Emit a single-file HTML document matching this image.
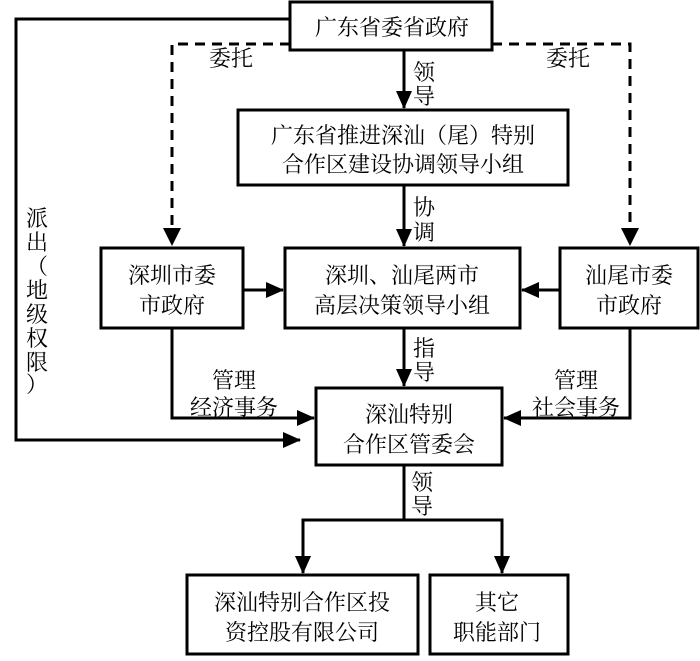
<!DOCTYPE html>
<html><head><meta charset="utf-8"><style>
body{margin:0;background:#fff;}
svg text{font-family:"Liberation Serif","Noto Serif CJK SC","Noto Sans CJK SC",serif;font-size:22px;fill:#000;}
</style></head><body>
<svg width="700" height="656" viewBox="0 0 700 656" xmlns="http://www.w3.org/2000/svg">
<defs><marker id="b" markerWidth="18" markerHeight="16" refX="17" refY="8" orient="auto" markerUnits="userSpaceOnUse"><path d="M0,0 L18,8 L0,16 z" fill="#000"/></marker></defs>
<g fill="none" stroke="#000" stroke-width="3">
<rect x="290" y="2" width="202" height="48"/>
<rect x="238" y="110" width="330" height="75"/>
<rect x="101" y="248" width="142" height="80"/>
<rect x="285" y="248" width="235" height="80"/>
<rect x="560" y="248" width="138" height="80"/>
<rect x="316" y="388" width="186" height="77"/>
<rect x="187" y="575" width="231" height="79"/>
<rect x="430" y="575" width="138" height="79"/>
<path d="M290,19 H16 V440 H300" marker-end="url(#b)"/>
<path d="M404,50 V108" marker-end="url(#b)"/>
<path d="M404,185 V246" marker-end="url(#b)"/>
<path d="M243,290 H283" marker-end="url(#b)"/>
<path d="M560,290 H522" marker-end="url(#b)"/>
<path d="M404,328 V386" marker-end="url(#b)"/>
<path d="M172,328 V418 H314" marker-end="url(#b)"/>
<path d="M630,328 V418 H504" marker-end="url(#b)"/>
<path d="M404,465 V520 H303 V573" marker-end="url(#b)"/>
<path d="M404,520 H502 V573" marker-end="url(#b)"/>
</g>
<g fill="none" stroke="#000" stroke-width="3" stroke-dasharray="10,7">
<path d="M290,44 H172 V228"/>
<path d="M492,44 H630 V228"/>
</g>
<path d="M163,228 L181,228 L172,246 z M621,228 L639,228 L630,246 z" fill="#000"/>
<g text-anchor="middle">
<text x="392" y="35">广东省委省政府</text>
<text x="403" y="143">广东省推进深汕（尾）特别</text>
<text x="403" y="172">合作区建设协调领导小组</text>
<text x="172" y="283">深圳市委</text>
<text x="172" y="313">市政府</text>
<text x="402" y="283">深圳、汕尾两市</text>
<text x="402" y="313">高层决策领导小组</text>
<text x="629" y="283">汕尾市委</text>
<text x="629" y="313">市政府</text>
<text x="409" y="422">深汕特别</text>
<text x="409" y="452">合作区管委会</text>
<text x="302" y="610">深汕特别合作区投</text>
<text x="302" y="640">资控股有限公司</text>
<text x="497" y="610">其它</text>
<text x="497" y="640">职能部门</text>
<text x="231" y="66">委托</text>
<text x="568" y="66">委托</text>
<text x="234" y="388">管理</text>
<text x="234" y="415">经济事务</text>
<text x="576" y="388">管理</text>
<text x="576" y="415">社会事务</text>
</g>
<g text-anchor="middle">
<text x="424" y="80">领</text><text x="424" y="104">导</text>
<text x="424" y="215">协</text><text x="424" y="240">调</text>
<text x="424" y="356">指</text><text x="424" y="380">导</text>
<text x="422" y="490">领</text><text x="422" y="514">导</text>
<text x="37" y="226">派</text><text x="37" y="250">出</text>
<text x="37" y="274">（</text><text x="37" y="298">地</text>
<text x="37" y="322">级</text><text x="37" y="346">权</text>
<text x="37" y="370">限</text><text x="37" y="392">）</text>
</g>
</svg>
</body></html>
